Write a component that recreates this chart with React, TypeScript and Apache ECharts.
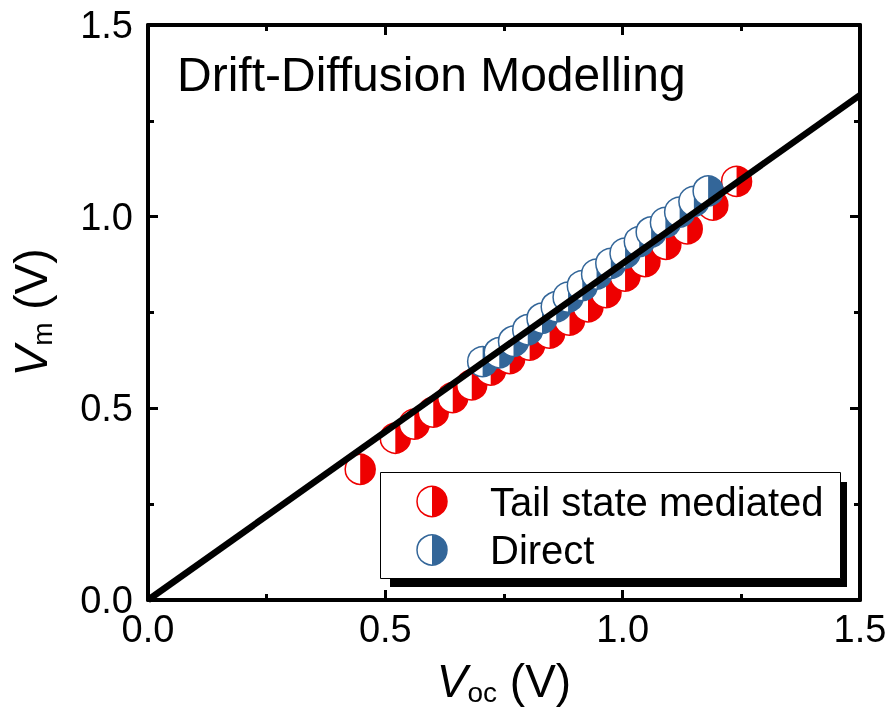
import React, { useEffect, useRef } from "react";
import * as echarts from "echarts";

// Tail state mediated: [Voc, Vm]
const tailVoc = [0.447, 0.521, 0.561, 0.601, 0.642, 0.682, 0.722, 0.762, 0.804, 0.846, 0.888, 0.927, 0.965, 1.005, 1.047, 1.091, 1.136, 1.19, 1.24];
const tailVm = [0.341, 0.422, 0.459, 0.49, 0.528, 0.561, 0.6, 0.63, 0.665, 0.696, 0.73, 0.765, 0.802, 0.845, 0.883, 0.928, 0.968, 1.03, 1.092];

// Direct
const directVoc = [0.705, 0.74, 0.77, 0.8, 0.83, 0.86, 0.885, 0.915, 0.945, 0.975, 1.005, 1.035, 1.06, 1.09, 1.12, 1.15, 1.18];
const directVm = [0.622, 0.645, 0.675, 0.705, 0.735, 0.765, 0.79, 0.82, 0.85, 0.878, 0.905, 0.935, 0.96, 0.985, 1.012, 1.04, 1.067];

// Reference line
const lineVoc = [0, 1.5];
const lineVm = [0, 1.317];

const xTicks = [0, 0.5, 1.0, 1.5];
const yTicks = [0, 0.5, 1.0, 1.5];

const seriesNames = ["Tail state mediated", "Direct"];
const titleText = "Drift-Diffusion Modelling";

const RED = "#EE0000";
const BLUE = "#336699";
const FONT = "'Liberation Sans', Arial, Helvetica, sans-serif";

function halfCircle(cx: number, cy: number, r: number, color: string, z?: number) {
  const zz = z === undefined ? {} : { z };
  return [
    { type: "circle", shape: { cx, cy, r }, style: { fill: "#fff", stroke: color, lineWidth: 1.5 }, ...zz },
    {
      type: "sector",
      shape: { cx, cy, r0: 0, r, startAngle: -Math.PI / 2, endAngle: Math.PI / 2, clockwise: true },
      style: { fill: color },
      ...zz,
    },
  ];
}

function makeRender(color: string) {
  return (params: any, api: any) => {
    const p = api.coord([api.value(0), api.value(1)]);
    return { type: "group", children: halfCircle(p[0], p[1], 15, color) };
  };
}

export default function App() {
  const ref = useRef<HTMLDivElement>(null);
  useEffect(() => {
    if (!ref.current) return;
    const chart = echarts.init(ref.current, undefined, { renderer: "svg" });
    const axisCommon = {
      type: "value",
      min: 0,
      max: 1.5,
      interval: 0.5,
      axisLine: { show: true, onZero: false, lineStyle: { color: "#000", width: 4 } },
      axisTick: { show: true, inside: true, length: 10, lineStyle: { color: "#000", width: 3 } },
      minorTick: { show: true, splitNumber: 2, length: 6, lineStyle: { color: "#000", width: 3 } },
      splitLine: { show: false },
      minorSplitLine: { show: false },
    };
    const tailData = tailVoc.map((v, i) => [v, tailVm[i]]);
    const directData = directVoc.map((v, i) => [v, directVm[i]]);
    const lineData = lineVoc.map((v, i) => [v, lineVm[i]]);
    const fmt = (v: number) => {
      const t = [...xTicks, ...yTicks].find((k) => Math.abs(k - v) < 1e-9);
      return t === undefined ? "" : t.toFixed(1);
    };
    chart.setOption({
      animation: false,
      grid: { left: 145, right: 31, top: 25, bottom: 120, containLabel: false },
      xAxis: [
        {
          ...axisCommon,
          position: "bottom",
          axisLabel: { show: true, margin: 10, color: "#000", fontSize: 38, fontFamily: FONT, formatter: fmt },
          name: "{i|V}{s|oc}{n| (V)}",
          nameLocation: "middle",
          nameGap: 56,
          nameTextStyle: {
            rich: {
              i: { fontSize: 46, fontStyle: "italic", fontFamily: FONT, color: "#000", lineHeight: 50 },
              s: { fontSize: 28, fontFamily: FONT, color: "#000", verticalAlign: "bottom", lineHeight: 28 },
              n: { fontSize: 46, fontFamily: FONT, color: "#000", lineHeight: 50 },
            },
          },
        },
        { ...axisCommon, position: "top", axisLabel: { show: false } },
      ],
      yAxis: [
        {
          ...axisCommon,
          position: "left",
          axisLabel: { show: true, margin: 15, color: "#000", fontSize: 38, fontFamily: FONT, formatter: fmt },
          name: "{i|V}{s|m}{n| (V)}",
          nameLocation: "middle",
          nameGap: 92,
          nameRotate: 90,
          nameTextStyle: {
            rich: {
              i: { fontSize: 46, fontStyle: "italic", fontFamily: FONT, color: "#000", lineHeight: 50 },
              s: { fontSize: 28, fontFamily: FONT, color: "#000", verticalAlign: "bottom", lineHeight: 28 },
              n: { fontSize: 46, fontFamily: FONT, color: "#000", lineHeight: 50 },
            },
          },
        },
        { ...axisCommon, position: "right", axisLabel: { show: false } },
      ],
      series: [
        {
          name: seriesNames[0],
          type: "custom",
          renderItem: makeRender(RED),
          data: tailData,
          encode: { x: 0, y: 1 },
          z: 2,
        },
        {
          name: seriesNames[1],
          type: "custom",
          renderItem: makeRender(BLUE),
          data: directData,
          encode: { x: 0, y: 1 },
          z: 3,
        },
        {
          type: "line",
          data: lineData,
          symbol: "none",
          lineStyle: { color: "#000", width: 6.5 },
          z: 4,
        },
      ],
      graphic: [
        {
          type: "text",
          left: 177,
          top: 50,
          style: { text: titleText, font: `48px ${FONT}`, fill: "#000" },
          z: 10,
        },
        { type: "rect", shape: { x: 390, y: 482, width: 457, height: 105 }, style: { fill: "#000" }, z: 10 },
        {
          type: "rect",
          shape: { x: 380.5, y: 472.5, width: 460, height: 106 },
          style: { fill: "#fff", stroke: "#000", lineWidth: 1 },
          z: 11,
        },
        ...halfCircle(432, 501.5, 15, RED, 12),
        ...halfCircle(432, 550, 15, BLUE, 12),
        {
          type: "text",
          x: 490,
          y: 501.5,
          style: { text: seriesNames[0], font: `40px ${FONT}`, fill: "#000", verticalAlign: "middle" },
          z: 12,
        },
        {
          type: "text",
          x: 490,
          y: 550,
          style: { text: seriesNames[1], font: `40px ${FONT}`, fill: "#000", verticalAlign: "middle" },
          z: 12,
        },
      ],
    });
    return () => chart.dispose();
  }, []);
  return <div ref={ref} style={{ position: "fixed", left: 0, top: 0, width: 891, height: 720 }} />;
}
